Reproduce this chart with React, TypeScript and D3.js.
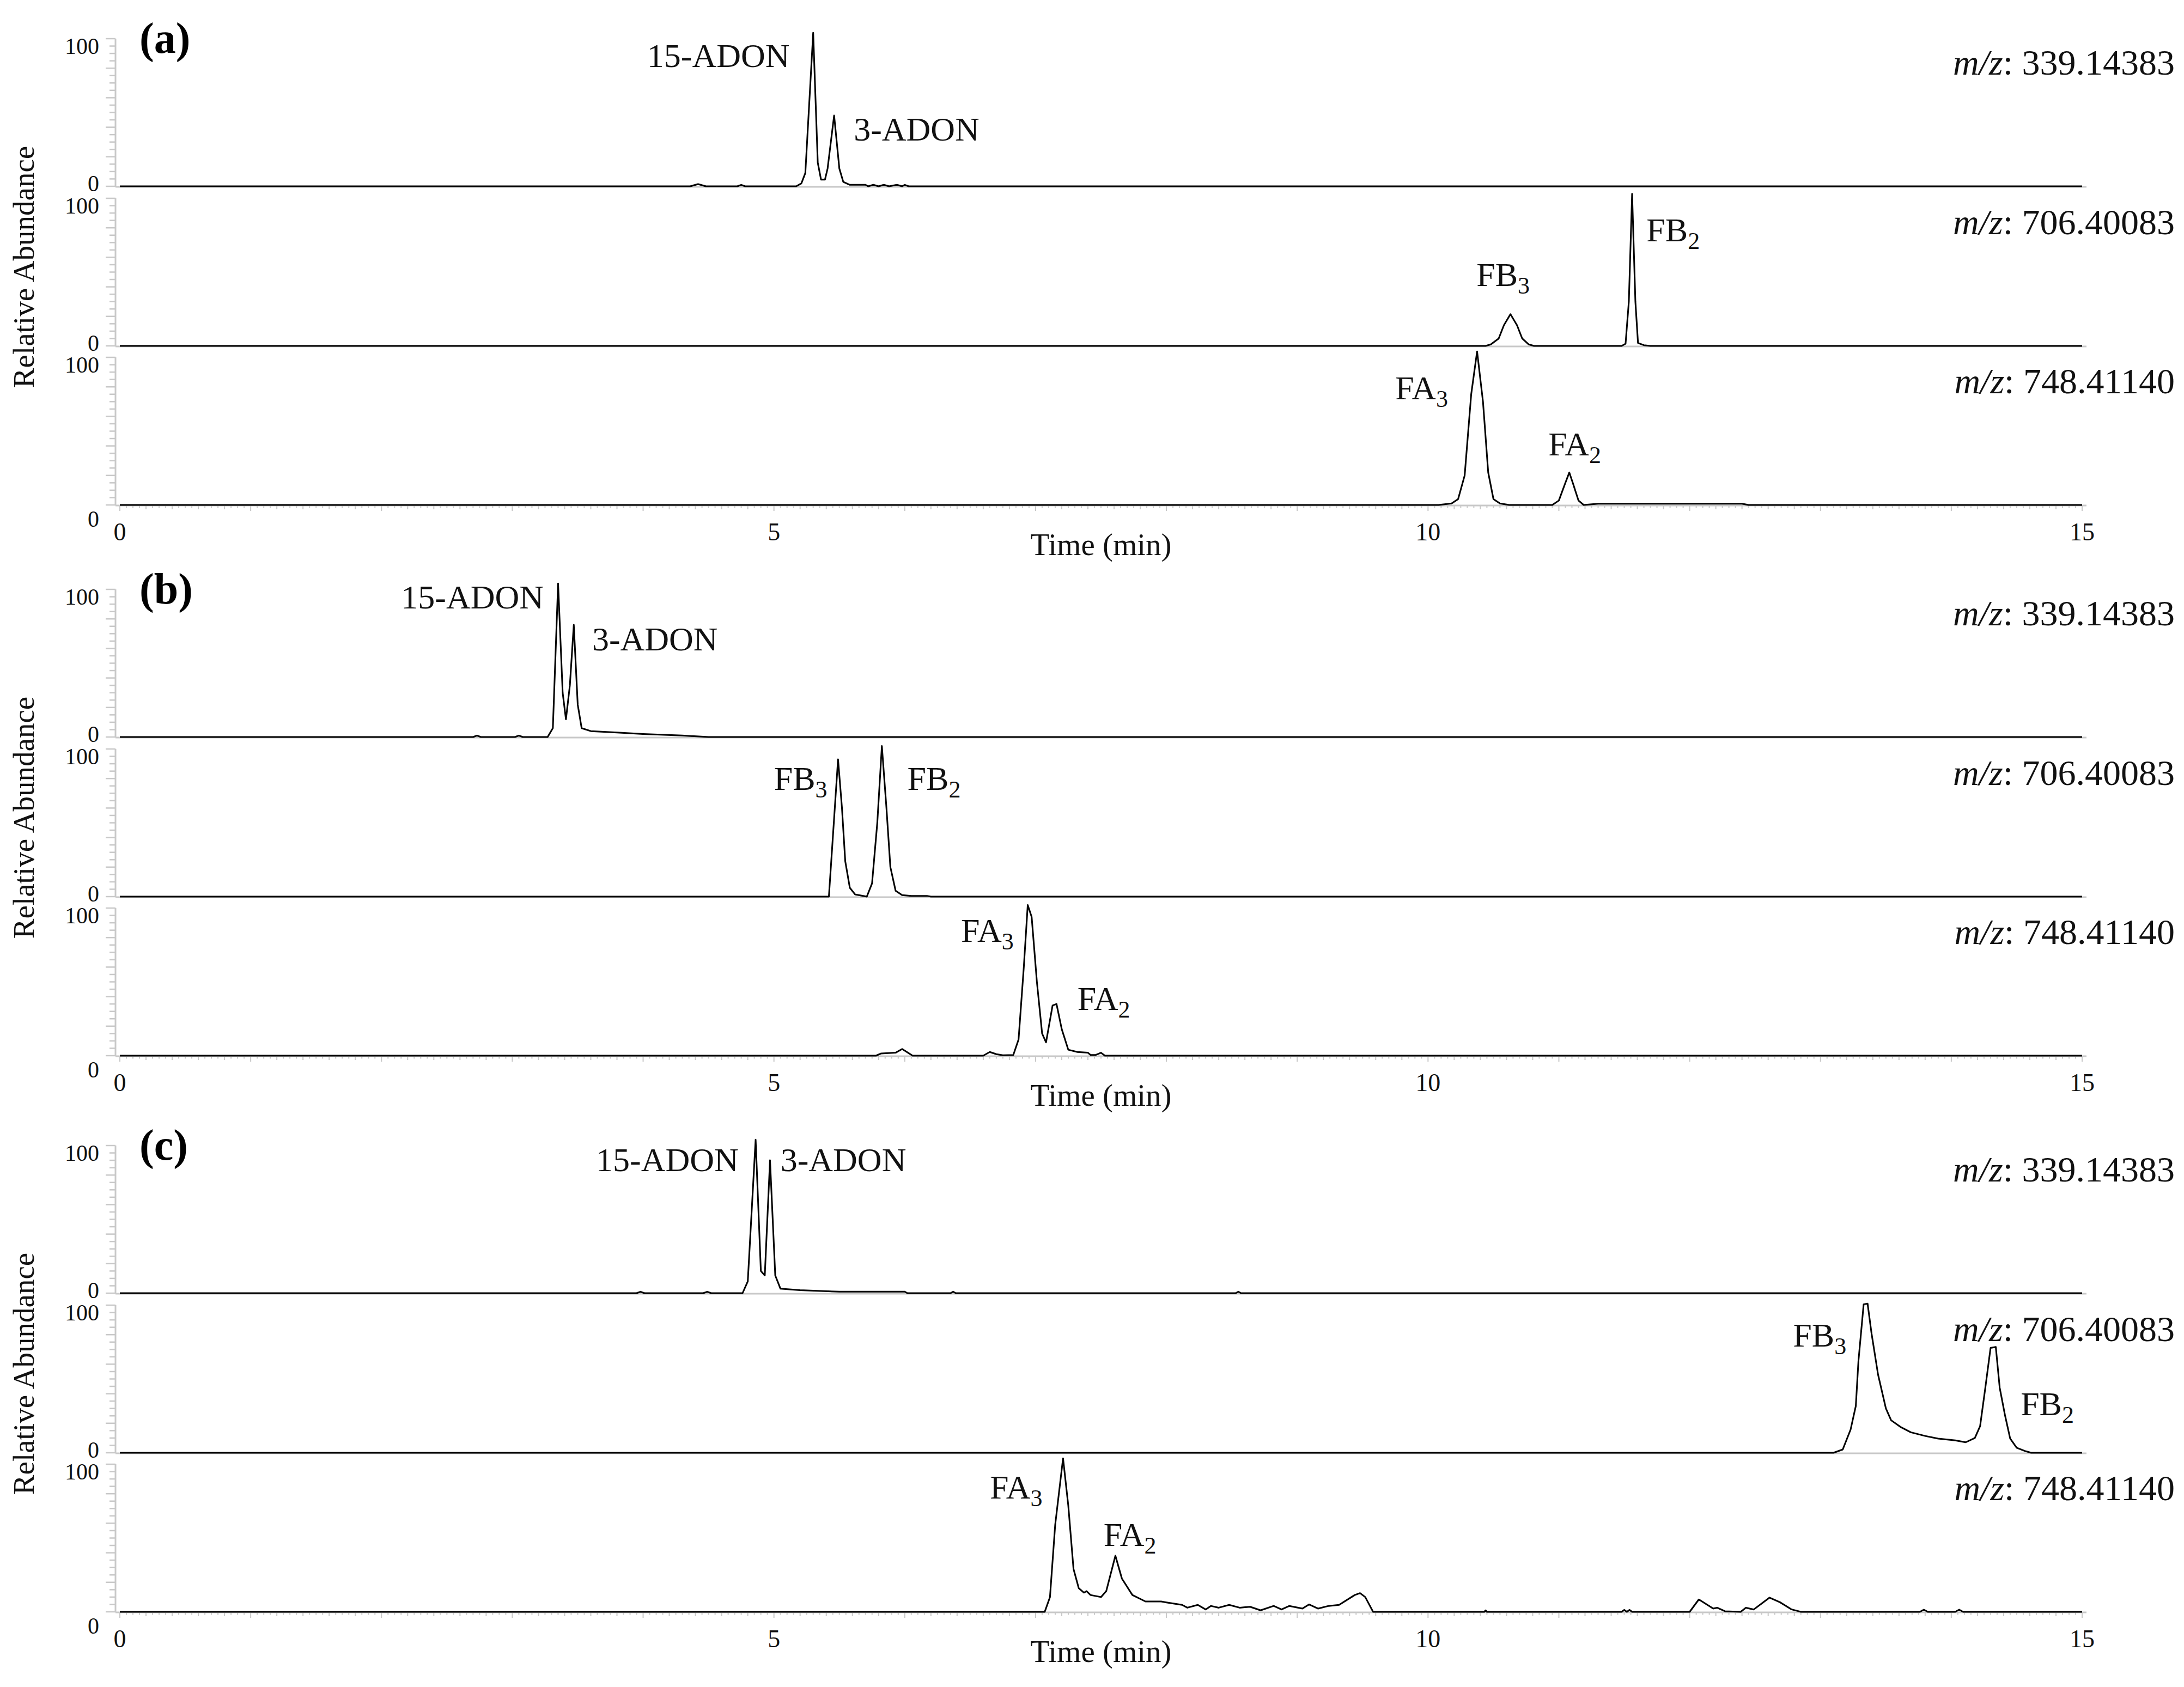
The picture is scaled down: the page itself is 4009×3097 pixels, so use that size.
import React from "react";
import * as d3 from "d3";

type Pt = [number, number];

const W = 4009;
const H = 3097;

const panelLabels = ["(a)", "(b)", "(c)"];
const mzValues = ["339.14383", "706.40083", "748.41140"];
const timeMajorTicks = [0, 5, 10, 15];
const yTickValues = [0, 100];

// ---- Panel (a) ----
const a339: Pt[] = [
  [0, 0], [4.36, 0], [4.42, 1.5], [4.48, 0], [4.72, 0], [4.75, 1], [4.78, 0],
  [5.17, 0], [5.21, 2], [5.24, 9], [5.30, 104], [5.335, 16], [5.36, 4.5], [5.39, 4.5],
  [5.41, 12], [5.46, 48], [5.50, 12], [5.53, 3], [5.58, 1], [5.70, 1], [5.72, 0],
  [5.76, 1], [5.80, 0], [5.84, 1], [5.88, 0], [5.94, 1], [5.98, 0], [6.0, 1], [6.03, 0], [15, 0],
];
const a706: Pt[] = [
  [0, 0], [10.44, 0], [10.48, 1], [10.54, 5], [10.58, 14], [10.63, 21.5], [10.68, 14],
  [10.72, 5], [10.77, 1], [10.81, 0], [11.48, 0], [11.51, 1.5], [11.535, 30], [11.56, 103],
  [11.585, 30], [11.605, 2], [11.65, 0.5], [11.70, 0], [15, 0],
];
const a748: Pt[] = [
  [0, 0], [10.08, 0], [10.18, 1], [10.23, 4], [10.28, 20], [10.33, 75], [10.375, 104],
  [10.42, 70], [10.46, 22], [10.50, 4], [10.55, 1], [10.62, 0], [10.95, 0], [11.0, 3],
  [11.05, 15], [11.08, 22], [11.11, 14], [11.15, 3], [11.19, 0], [11.30, 0.8], [12.40, 0.8],
  [12.45, 0], [15, 0],
];

// ---- Panel (b) ----
const b339: Pt[] = [
  [0, 0], [2.70, 0], [2.73, 1], [2.76, 0], [3.02, 0], [3.05, 1], [3.08, 0], [3.27, 0],
  [3.31, 6], [3.35, 104], [3.385, 30], [3.41, 12], [3.44, 35], [3.47, 76], [3.50, 22],
  [3.53, 6], [3.60, 4], [3.80, 3], [4.0, 2], [4.3, 1], [4.5, 0], [15, 0],
];
const b706: Pt[] = [
  [0, 0], [5.42, 0], [5.49, 93], [5.52, 60], [5.545, 24], [5.58, 6], [5.62, 1.5], [5.71, 0],
  [5.75, 9], [5.79, 50], [5.825, 102], [5.86, 60], [5.89, 20], [5.93, 4], [5.98, 1],
  [6.05, 0.5], [6.17, 0.5], [6.2, 0], [15, 0],
];
const b748: Pt[] = [
  [0, 0], [5.78, 0], [5.82, 1.5], [5.93, 2], [5.98, 4.5], [6.06, 0], [6.60, 0], [6.65, 2.5],
  [6.70, 1], [6.75, 0.3], [6.83, 0.5], [6.87, 11], [6.91, 60], [6.94, 102], [6.97, 94],
  [7.01, 50], [7.05, 15], [7.08, 9], [7.13, 34], [7.16, 35], [7.20, 18], [7.25, 4],
  [7.32, 2.5], [7.40, 2], [7.42, 0.5], [7.46, 0.5], [7.50, 2], [7.53, 0], [15, 0],
];

// ---- Panel (c) ----
const c339: Pt[] = [
  [0, 0], [3.95, 0], [3.98, 1], [4.01, 0], [4.46, 0], [4.49, 1], [4.52, 0], [4.76, 0],
  [4.80, 8], [4.86, 104], [4.90, 15], [4.93, 12], [4.97, 90], [5.01, 12], [5.05, 3],
  [5.2, 2], [5.5, 1], [6.0, 1], [6.02, 0], [6.35, 0], [6.37, 1], [6.39, 0], [8.53, 0],
  [8.55, 1], [8.57, 0], [15, 0],
];
const c706: Pt[] = [
  [0, 0], [13.10, 0], [13.17, 2.2], [13.23, 15.7], [13.27, 31.7], [13.29, 62], [13.33, 100.6],
  [13.36, 101], [13.39, 81], [13.44, 53], [13.50, 30], [13.54, 22], [13.61, 17.6],
  [13.69, 13.9], [13.80, 11.4], [13.90, 9.6], [14.03, 8.4], [14.11, 7.1], [14.18, 10],
  [14.22, 18], [14.26, 44], [14.30, 71], [14.34, 71.7], [14.37, 44], [14.41, 25.6],
  [14.45, 9.6], [14.50, 3.4], [14.57, 1], [14.61, 0], [15, 0],
];
const c748: Pt[] = [
  [0, 0], [7.07, 0], [7.11, 10], [7.15, 59], [7.21, 104], [7.25, 72], [7.29, 29], [7.33, 16],
  [7.37, 13], [7.39, 14], [7.42, 11.4], [7.50, 10], [7.54, 14], [7.61, 38], [7.66, 22.5],
  [7.74, 11.4], [7.84, 7], [7.96, 7], [8.0, 6.4], [8.12, 4.7], [8.16, 2.8], [8.24, 4.7],
  [8.30, 1.6], [8.34, 4], [8.40, 2.8], [8.48, 4.7], [8.56, 2.8], [8.64, 3.4], [8.72, 1],
  [8.82, 4], [8.88, 1.6], [8.94, 4], [9.04, 2.2], [9.09, 5], [9.16, 2.2], [9.24, 4],
  [9.32, 4.7], [9.44, 11.4], [9.48, 12.7], [9.52, 10], [9.58, 0], [10.43, 0], [10.44, 1],
  [10.45, 0], [11.48, 0], [11.50, 1.3], [11.52, 0], [11.54, 1.3], [11.56, 0], [12.0, 0],
  [12.07, 8.4], [12.18, 2.2], [12.21, 2.8], [12.27, 0.4], [12.39, 0], [12.43, 2.8],
  [12.49, 1.6], [12.61, 9.6], [12.69, 6.5], [12.78, 1.6], [12.85, 0], [13.76, 0],
  [13.79, 1.5], [13.82, 0], [14.03, 0], [14.06, 1.5], [14.09, 0], [15, 0],
];

const traces: Pt[][][] = [
  [a339, a706, a748],
  [b339, b706, b748],
  [c339, c706, c748],
];

// peak labels: panel, trace, main text, subscript, time, value (anchor = text start, baseline)
const peakPanel = [0, 0, 0, 0, 0, 0, 1, 1, 1, 1, 1, 1, 2, 2, 2, 2, 2, 2];
const peakTrace = [0, 0, 1, 1, 2, 2, 0, 0, 1, 1, 2, 2, 0, 0, 1, 1, 2, 2];
const peakText = ["15-ADON", "3-ADON", "FB", "FB", "FA", "FA", "15-ADON", "3-ADON", "FB", "FB", "FA", "FA", "15-ADON", "3-ADON", "FB", "FB", "FA", "FA"];
const peakSub = ["", "", "3", "2", "3", "2", "", "", "3", "2", "3", "2", "", "", "3", "2", "3", "2"];
const peakTime = [4.03, 5.61, 10.37, 11.67, 9.75, 10.92, 2.15, 3.61, 5.0, 6.02, 6.43, 7.32, 3.64, 5.05, 12.79, 14.53, 6.65, 7.52];
const peakValue = [80.8, 31, 40.6, 70.8, 71.6, 33.6, 87, 58.7, 72.3, 72.3, 77, 31, 82.7, 82.7, 72, 25.5, 76.8, 44.6];

// ---- layout ----
const SERIF = "'Liberation Serif', 'Times New Roman', Times, serif";
const panelOffsets = [0, 1011, 2032];
const traceZeroBase = [342, 635, 927];
const axisX = 212;
const plotLeft = 220;
const plotRight = 3822;
const traceHeight = 271;
const gray = "#c8c8c8";

const x = d3.scaleLinear().domain([0, 15]).range([plotLeft, plotRight]);
const lineGen = (ys: d3.ScaleLinear<number, number>) =>
  d3.line<Pt>().x((d) => x(d[0])).y((d) => ys(d[1])).curve(d3.curveLinear);

const yTicks5 = d3.range(0, 101, 5);
const xTinyTicks = d3.range(0, 15.0001, 0.05).map((v) => Math.round(v * 100) / 100);

function Trace({ panel, ti }: { panel: number; ti: number }) {
  const zero = panelOffsets[panel] + traceZeroBase[ti];
  const ys = d3.scaleLinear().domain([0, 100]).range([zero, zero - traceHeight]);
  const data = traces[panel][ti];
  const isBottom = ti === 2;
  return (
    <g>
      {/* y axis */}
      <line x1={axisX} x2={axisX} y1={ys(0)} y2={ys(100)} stroke={gray} strokeWidth={3} />
      {yTicks5.map((v) => (
        <line
          key={v}
          x1={axisX - (v % 20 === 0 ? 18 : 11)}
          x2={axisX}
          y1={ys(v)}
          y2={ys(v)}
          stroke={gray}
          strokeWidth={2.5}
        />
      ))}
      {yTickValues.map((v) => (
        <text
          key={"yl" + v}
          x={182}
          y={v === 100 ? ys(100) + 28 : isBottom ? zero + 40 : zero + 9}
          textAnchor="end"
          fontFamily={SERIF}
          fontSize={42}
          fill="#111"
        >
          {v}
        </text>
      ))}
      {/* zero axis line */}
      <line x1={axisX} x2={plotRight + 8} y1={zero + 1} y2={zero + 1} stroke={gray} strokeWidth={3} />
      {isBottom &&
        xTinyTicks.map((t) => {
          const major = Math.abs(t - Math.round(t)) < 1e-6;
          const mid = Math.abs(t * 5 - Math.round(t * 5)) < 1e-6;
          const len = major ? 10 : mid ? 7 : 4.5;
          return (
            <line key={"xt" + t} x1={x(t)} x2={x(t)} y1={zero + 1} y2={zero + 1 + len} stroke={gray} strokeWidth={2} />
          );
        })}
      {isBottom &&
        timeMajorTicks.map((t) => (
          <text key={"xl" + t} x={x(t)} y={zero + 65} textAnchor="middle" fontFamily={SERIF} fontSize={46} fill="#111">
            {t}
          </text>
        ))}
      {/* trace */}
      <path d={lineGen(ys)(data) || ""} fill="none" stroke="#000" strokeWidth={3} strokeLinejoin="round" />
      {/* m/z label */}
      <text x={3992} y={zero - 205} textAnchor="end" fontFamily={SERIF} fontSize={66} fill="#111">
        <tspan fontStyle="italic">m/z</tspan>
        <tspan>{": " + mzValues[ti]}</tspan>
      </text>
    </g>
  );
}

function Panel({ panel }: { panel: number }) {
  const off = panelOffsets[panel];
  const zero1 = off + traceZeroBase[0];
  const zero2 = off + traceZeroBase[1];
  const zero3 = off + traceZeroBase[2];
  const labels = peakText
    .map((txt, i) => ({ txt, i }))
    .filter((d) => peakPanel[d.i] === panel);
  return (
    <g>
      {[0, 1, 2].map((ti) => (
        <Trace key={ti} panel={panel} ti={ti} />
      ))}
      <text x={256} y={zero1 - 245} fontFamily={SERIF} fontSize={80} fontWeight="bold" fill="#000">
        {panelLabels[panel]}
      </text>
      <text
        transform={`translate(62, ${zero2 - 145}) rotate(-90)`}
        textAnchor="middle"
        fontFamily={SERIF}
        fontSize={55}
        fill="#111"
      >
        Relative Abundance
      </text>
      <text x={(plotLeft + plotRight) / 2} y={zero3 + 92} textAnchor="middle" fontFamily={SERIF} fontSize={57} fill="#111">
        Time (min)
      </text>
      {labels.map(({ txt, i }) => {
        const z = off + traceZeroBase[peakTrace[i]];
        const ys = d3.scaleLinear().domain([0, 100]).range([z, z - traceHeight]);
        return (
          <text key={"pl" + i} x={x(peakTime[i])} y={ys(peakValue[i])} fontFamily={SERIF} fontSize={62} fill="#111">
            {txt}
            {peakSub[i] && (
              <tspan fontSize={44} dy={14}>
                {peakSub[i]}
              </tspan>
            )}
          </text>
        );
      })}
    </g>
  );
}

export default function App() {
  return (
    <svg
      width={W}
      height={H}
      viewBox={`0 0 ${W} ${H}`}
      style={{ position: "absolute", left: 0, top: 0, background: "#fff" }}
    >
      <rect x={0} y={0} width={W} height={H} fill="#fff" />
      {[0, 1, 2].map((p) => (
        <Panel key={p} panel={p} />
      ))}
    </svg>
  );
}
